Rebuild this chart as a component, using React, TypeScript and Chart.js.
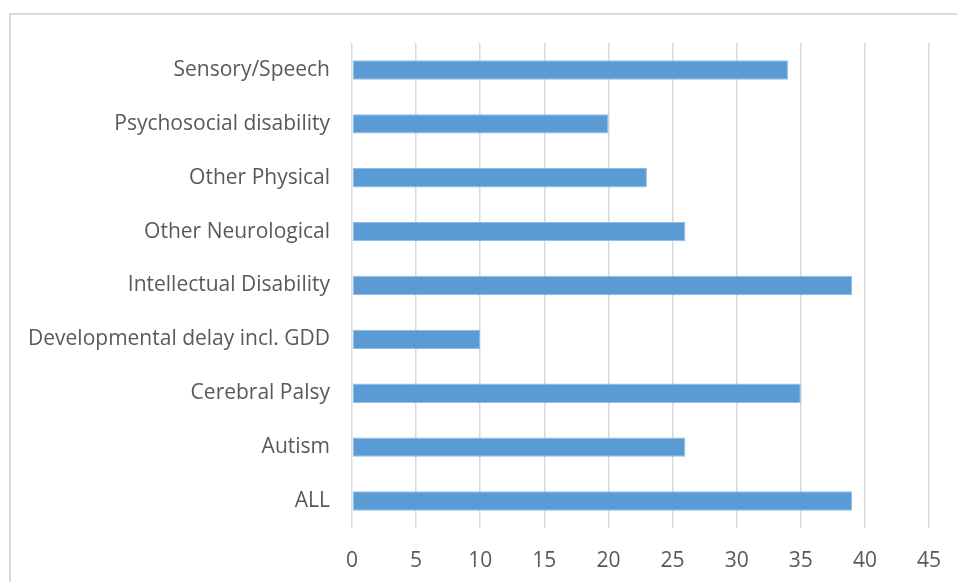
import React, { useEffect, useRef } from "react";
import { Chart, registerables } from "chart.js";

Chart.register(...registerables);

const categories = [
  "Sensory/Speech",
  "Psychosocial disability",
  "Other Physical",
  "Other Neurological",
  "Intellectual Disability",
  "Developmental delay incl. GDD",
  "Cerebral Palsy",
  "Autism",
  "ALL",
];
const counts = [34, 20, 23, 26, 39, 10, 35, 26, 39];
const xMin = 0;
const xMax = 45;
const xStep = 5;

const FONT = "'Open Sans', Lato, sans-serif";
const TEXT = "#595959";
const GRID = "#d9d9d9";

export default function App() {
  const canvasRef = useRef<HTMLCanvasElement | null>(null);

  useEffect(() => {
    const canvas = canvasRef.current;
    if (!canvas) return;
    const chart = new Chart(canvas, {
      type: "bar",
      data: {
        labels: categories,
        datasets: [
          {
            data: counts,
            backgroundColor: "#5b9bd5",
            borderColor: "#8fbce6",
            borderWidth: 1,
            borderSkipped: false,
            categoryPercentage: 1,
            barPercentage: 0.36,
          },
        ],
      },
      options: {
        indexAxis: "y",
        animation: false,
        responsive: false,
        maintainAspectRatio: false,
        layout: { padding: { left: 0, top: 43, right: 28, bottom: 0 } },
        plugins: {
          legend: { display: false },
          tooltip: { enabled: false },
        },
        scales: {
          x: {
            min: xMin,
            max: xMax,
            ticks: {
              stepSize: xStep,
              color: TEXT,
              font: { family: FONT, size: 21 },
              padding: 20,
            },
            grid: { color: GRID, lineWidth: 1.5, drawTicks: false },
            border: { display: false },
            afterFit: (scale: any) => {
              scale.height = 54;
              scale.paddingLeft = 0;
              scale.paddingRight = 0;
            },
          },
          y: {
            ticks: {
              color: TEXT,
              font: { family: FONT, size: 21 },
              padding: 22,
            },
            grid: { display: false, drawTicks: false },
            border: { display: false },
            afterFit: (scale: any) => {
              scale.width = 352;
            },
          },
        },
      },
    });
    return () => chart.destroy();
  }, []);

  return (
    <div
      style={{
        position: "fixed",
        left: 0,
        top: 0,
        width: 957,
        height: 582,
        overflow: "hidden",
        background: "#ffffff",
      }}
    >
      <div
        style={{
          position: "absolute",
          left: 9,
          top: 13,
          width: 980,
          height: 600,
          border: "2px solid #d9d9d9",
          boxSizing: "border-box",
        }}
      />
      <canvas
        ref={canvasRef}
        width={957}
        height={582}
        style={{ position: "absolute", left: 0, top: 0, width: 957, height: 582 }}
      />
    </div>
  );
}
